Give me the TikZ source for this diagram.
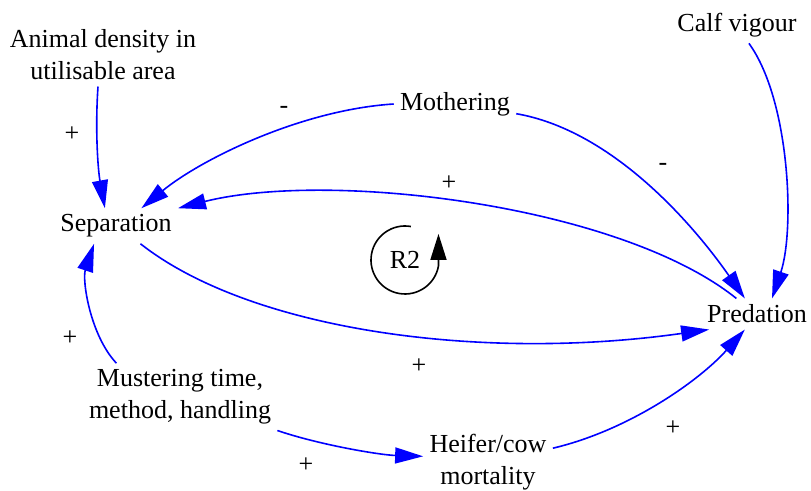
\documentclass[tikz,border=0pt]{standalone}
\usepackage{fontspec}
\setmainfont{Liberation Serif}
\usetikzlibrary{arrows.meta}

\begin{document}
\begin{tikzpicture}[x=0.5pt,y=-0.5pt,
    var/.style={font=\fontsize{13}{16}\selectfont, align=center, inner sep=3pt},
    sgn/.style={font=\fontsize{13}{16}\selectfont, inner sep=0pt},
    link/.style={blue, line width=0.8pt, -{Triangle[length=14pt,width=8pt]}}]
    % 枠
    \useasboundingbox (0,0) rectangle (811,491);

    % 変数
    \node[var] (dens) at (103,55) {Animal density in\\utilisable area};
    \node[var] (calf) at (737,25) {Calf vigour};
    \node[var] (moth) at (455,104) {Mothering};
    \node[var] (sep) at (116,226) {Separation};
    \node[var] (pred) at (757,314) {Predation};
    \node[var] (must) at (180,397) {Mustering time,\\method, handling};
    \node[var] (heif) at (488,462) {Heifer/cow\\mortality};

    % 矢印
    \draw[link] (dens.-99) .. controls (95,130) and (98,170) .. (sep.122);
    \draw[link] (moth.180) .. controls (300,110) and (200,160) .. (sep.35);
    \draw[link] (moth.-9) .. controls (610,130) and (690,220) .. (pred.128);
    \draw[link] (pred.143) .. controls (620,205) and (330,170) .. (sep.16);
    \draw[link] (sep.-36) .. controls (250,330) and (480,362) .. (pred.-162);
    \draw[link] (calf.-57) .. controls (790,100) and (795,230) .. (pred.46);
    \draw[link] (must.152) .. controls (90,335) and (82,280) .. (sep.-141);
    \draw[link] (must.-19) .. controls (320,445) and (380,455) .. (heif.175);
    \draw[link] (heif.12) .. controls (630,430) and (700,380) .. (pred.-128);

    % 極性
    \node[sgn] (s1) at (72,134) {+};
    \node[sgn] (s2) at (284,110) {-};
    \node[sgn] (s3) at (663,167) {-};
    \node[sgn] (s4) at (449,183) {+};
    \node[sgn] (s5) at (419,366) {+};
    \node[sgn] (s6) at (70,338) {+};
    \node[sgn] (s7) at (306,465) {+};
    \node[sgn] (s8) at (673,428) {+};

    % ループ R2
    \node[var] (r2) at (405,260) {R2};
    \draw[line width=0.8pt, -{Triangle[length=13pt,width=8pt]}]
        (r2) ++(-80:34) arc[start angle=-80, end angle=-350, radius=34] -- ++(0,-32);
\end{tikzpicture}
\end{document}
